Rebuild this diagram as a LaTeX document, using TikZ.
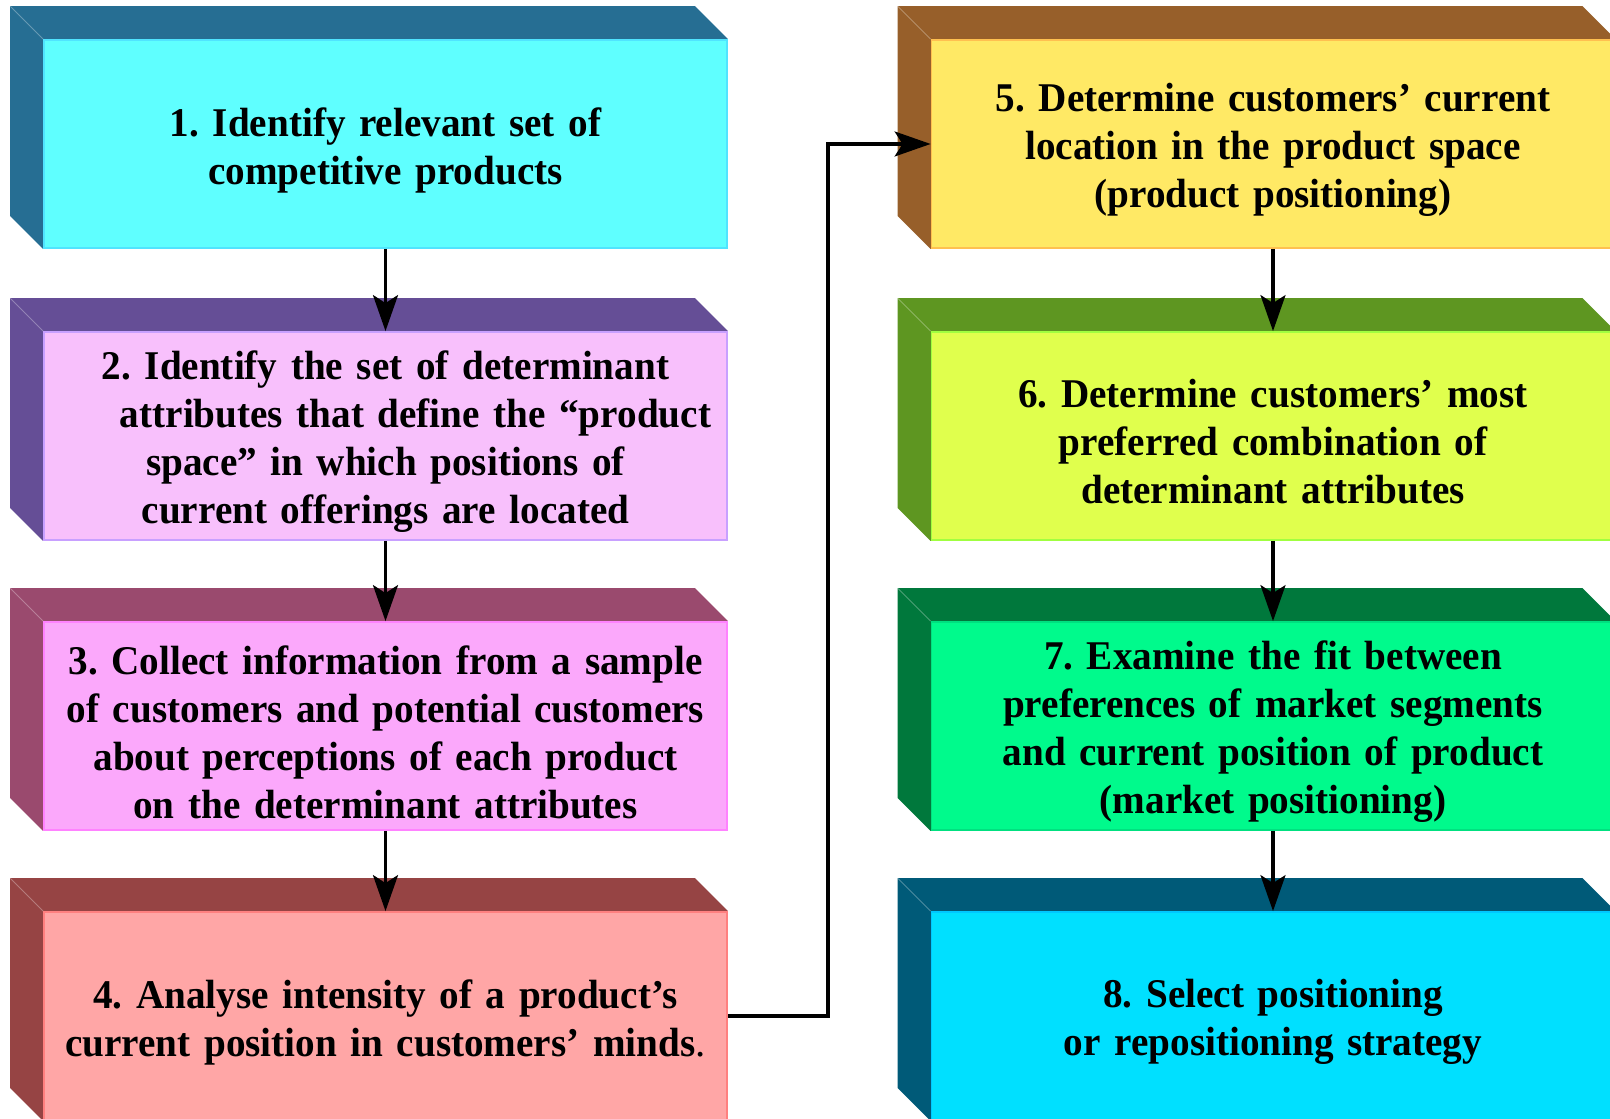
\documentclass[tikz,border=0pt]{standalone}
\usepackage{fontspec}
\setmainfont{Liberation Serif}[BoldFeatures={FakeStretch=0.96}]
\usepackage{tikz}
\usetikzlibrary{arrows.meta, positioning, calc, backgrounds}
\usepackage{xcolor}
\frenchspacing
\definecolor{sideone}{RGB}{38,110,147}
\definecolor{faceone}{RGB}{95,255,255}
\definecolor{edgeone}{RGB}{80,228,255}
\definecolor{sidetwo}{RGB}{101,78,150}
\definecolor{facetwo}{RGB}{248,192,252}
\definecolor{edgetwo}{RGB}{200,160,255}
\definecolor{sidethree}{RGB}{154,74,110}
\definecolor{facethree}{RGB}{251,168,251}
\definecolor{edgethree}{RGB}{255,130,255}
\definecolor{sidefour}{RGB}{150,68,68}
\definecolor{facefour}{RGB}{255,166,166}
\definecolor{edgefour}{RGB}{255,128,128}
\definecolor{sidefive}{RGB}{151,95,42}
\definecolor{facefive}{RGB}{255,233,101}
\definecolor{edgefive}{RGB}{255,192,80}
\definecolor{sidesix}{RGB}{94,150,33}
\definecolor{facesix}{RGB}{224,255,77}
\definecolor{edgesix}{RGB}{160,255,64}
\definecolor{sideseven}{RGB}{0,120,60}
\definecolor{faceseven}{RGB}{0,250,140}
\definecolor{edgeseven}{RGB}{0,224,128}
\definecolor{sideeight}{RGB}{0,90,120}
\definecolor{faceeight}{RGB}{0,224,255}
\definecolor{edgeeight}{RGB}{0,200,255}
\newcommand{\stagedrop}{\par\vspace*{-6pt}}
\tikzstyle{stage} = [rectangle, minimum width=341.5pt, minimum height=104pt, inner sep=0pt, text width=335pt, align=center, line width=0.9pt, font=\fontsize{20.4}{24}\selectfont\bfseries, execute at end node=\stagedrop]
\tikzstyle{arrow} = [line width=1.6pt, -{Stealth[length=18pt, width=12.5pt, inset=4pt]}]

\begin{document}
\begin{tikzpicture}[x=1pt, y=1pt]
\useasboundingbox (0,0) rectangle (805,559);

% Left column
\node[stage, fill=faceone, draw=edgeone] (s1) at (192.75,487) {1. Identify relevant set of\\competitive products};
\node[stage, fill=facetwo, draw=edgetwo] (s2) at (192.75,341) {2. Identify the set of determinant\\\hspace*{30pt}attributes that define the ``product\\space'' in which positions of\\current offerings are located};
\node[stage, fill=facethree, draw=edgethree] (s3) at (192.75,196) {3. Collect information from a sample\\of customers and potential customers\\about perceptions of each product\\on the determinant attributes};
\node[stage, fill=facefour, draw=edgefour] (s4) at (192.75,51) {4. Analyse intensity of a product's\\current position in customers' minds{\mdseries .}};

% Right column
\node[stage, fill=facefive, draw=edgefive] (s5) at (636.5,487) {5. Determine customers' current\\location in the product space\\(product positioning)};
\node[stage, fill=facesix, draw=edgesix] (s6) at (636.5,341) {6. Determine customers' most\\preferred combination of\\determinant attributes};
\node[stage, fill=faceseven, draw=edgeseven] (s7) at (636.5,196) {7. Examine the fit between\\preferences of market segments\\and current position of product\\(market positioning)};
\node[stage, fill=faceeight, draw=edgeeight] (s8) at (636.5,51) {8. Select positioning\\or repositioning strategy};

% Block sides
\begin{scope}[on background layer]
\foreach \n/\c in {s1/sideone, s2/sidetwo, s3/sidethree, s4/sidefour, s5/sidefive, s6/sidesix, s7/sideseven, s8/sideeight} {
  \fill[\c] ($(\n.north west)+(-16.5,16.5)$) -- ($(\n.north east)+(-16.5,16.5)$) -- (\n.north east) -- (\n.south west) -- ($(\n.south west)+(-16.5,16.5)$) -- cycle;
  \draw[white, opacity=0.3, line width=0.4pt] ($(\n.north west)+(-16.5,16.5)$) -- (\n.north west);
}
\end{scope}

% Flow
\coordinate (bend) at (414,0);
\draw[arrow] (s1) -- (s2);
\draw[arrow] (s2) -- (s3);
\draw[arrow] (s3) -- (s4);
\draw[arrow] (s4.east) -- (bend |- s4.east) |- (s5.west);
\draw[arrow] (s5) -- (s6);
\draw[arrow] (s6) -- (s7);
\draw[arrow] (s7) -- (s8);

\end{tikzpicture}
\end{document}
